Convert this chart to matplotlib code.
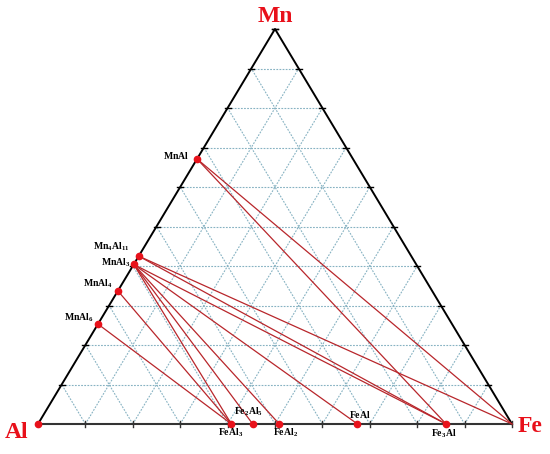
import matplotlib
matplotlib.use("Agg")
import matplotlib.pyplot as plt
import numpy as np

plt.rcParams['mathtext.fontset'] = 'custom'
plt.rcParams['mathtext.rm'] = 'Liberation Serif'
plt.rcParams['mathtext.bf'] = 'Liberation Serif:bold'
plt.rcParams['font.family'] = ['Liberation Serif', 'DejaVu Serif']

# ---- data (wt.%) ----
mn_side_names = ["MnAl", "Mn4Al11", "MnAl3", "MnAl4", "MnAl6"]
mn_side_labels = [r"$\mathbf{MnAl}$", r"$\mathbf{Mn_4Al_{11}}$", r"$\mathbf{MnAl_3}$",
                  r"$\mathbf{MnAl_4}$", r"$\mathbf{MnAl_6}$"]
mn_side_wt = [67.1, 42.5, 40.4, 33.7, 25.3]          # wt.% Mn on Al-Mn edge

fe_side_names = ["FeAl3", "Fe2Al5", "FeAl2", "FeAl", "Fe3Al"]
fe_side_labels = [r"$\mathbf{FeAl_3}$", r"$\mathbf{Fe_2Al_5}$", r"$\mathbf{FeAl_2}$",
                  r"$\mathbf{FeAl}$", r"$\mathbf{Fe_3Al}$"]
fe_side_wt = [40.8, 45.3, 50.9, 67.4, 86.1]          # wt.% Fe on Al-Fe edge

tie_lines = [("MnAl", "Fe3Al"), ("MnAl", "Fe"),
             ("Mn4Al11", "Fe"), ("Mn4Al11", "Fe3Al"),
             ("MnAl3", "Fe3Al"), ("MnAl3", "FeAl"), ("MnAl3", "FeAl2"),
             ("MnAl3", "Fe2Al5"), ("MnAl3", "FeAl3"),
             ("MnAl4", "FeAl3"), ("MnAl6", "FeAl3")]

# ---- helpers ----
def xy(al, fe, mn):
    s = al + fe + mn
    fe, mn = fe / s, mn / s
    return fe + 0.5 * mn, mn

comp = {"Al": (100, 0, 0), "Fe": (0, 100, 0), "Mn": (0, 0, 100)}
for n, w in zip(mn_side_names, mn_side_wt):
    comp[n] = (100 - w, 0, w)
for n, w in zip(fe_side_names, fe_side_wt):
    comp[n] = (100 - w, w, 0)

W, H = 550, 454
fig = plt.figure(figsize=(W / 100, H / 100), dpi=100)
ax = fig.add_axes([38 / W, 30 / H, 474 / W, 395 / H])
ax.set_xlim(0, 1)
ax.set_ylim(0, 1)
ax.axis('off')

px_x = 1 / 474
px_y = 1 / 395

grid_color = '#86b2c2'
gls = (0, (1.6, 1.2))
for i in range(1, 10):
    f = i / 10
    for a, b in ((xy(1 - f, 0, f), xy(0, 1 - f, f)),
                 (xy(1 - f, f, 0), xy(0, f, 1 - f)),
                 (xy(f, 1 - f, 0), xy(f, 0, 1 - f))):
        ax.plot([a[0], b[0]], [a[1], b[1]], ls=gls, color=grid_color, lw=0.8, zorder=1)

# triangle edges
A, F, M = xy(*comp["Al"]), xy(*comp["Fe"]), xy(*comp["Mn"])
ax.plot([A[0], F[0]], [A[1], F[1]], color='#333333', lw=1.5, zorder=3, clip_on=False)
ax.plot([F[0], M[0], A[0]], [F[1], M[1], A[1]], color='black', lw=1.4, zorder=3, clip_on=False)

# ticks
for i in range(1, 11):
    f = i / 10
    x, y = xy(1 - f, f, 0)
    ax.plot([x, x], [y - 3 * px_y, y + 3 * px_y], color='#333333', lw=1.0, zorder=3, clip_on=False)
for i in range(1, 11):
    f = i / 10
    for p in (xy(1 - f, 0, f), xy(0, 1 - f, f)):
        ax.plot([p[0] - 3 * px_x, p[0] + 3 * px_x], [p[1], p[1]], color='black', lw=1.0, zorder=3, clip_on=False)

# tie lines
for a, b in tie_lines:
    pa, pb = xy(*comp[a]), xy(*comp[b])
    ax.plot([pa[0], pb[0]], [pa[1], pb[1]], color='#b8262b', lw=0.9, zorder=4, clip_on=False)

# points
pts = ["Al"] + mn_side_names + fe_side_names
ax.plot([xy(*comp[n])[0] for n in pts], [xy(*comp[n])[1] for n in pts], 'o',
        color='#e8121b', ms=4.5, zorder=5, clip_on=False)

# compound labels
lab_fs = 7
mn_off = {"MnAl": (-8, 3), "Mn4Al11": (-9, 9), "MnAl3": (-3, 2), "MnAl4": (-5, 7), "MnAl6": (-4, 6)}
for n, lab in zip(mn_side_names, mn_side_labels):
    x, y = xy(*comp[n])
    dx, dy = mn_off[n]
    ax.text(x + dx * px_x, y + dy * px_y, lab, ha='right', va='center', fontsize=lab_fs, zorder=6)
fe_off = {"FeAl3": (-1, -9), "Fe2Al5": (-4, 12), "FeAl2": (6, -9), "FeAl": (2, 10), "Fe3Al": (-2, -10)}
for n, lab in zip(fe_side_names, fe_side_labels):
    x, y = xy(*comp[n])
    dx, dy = fe_off[n]
    ax.text(x + dx * px_x, y + dy * px_y, lab, ha='center', va='center', fontsize=lab_fs, zorder=6)

# vertex labels
vfs = 17
vcol = '#e8101a'
ax.text(0.5, 1 + 12 * px_y, "Mn", ha='center', va='center', fontsize=vfs, fontweight='bold', color=vcol)
ax.text(-21 * px_x, -9 * px_y, "Al", ha='center', va='center', fontsize=vfs, fontweight='bold', color=vcol)
ax.text(1 + 18 * px_x, -3 * px_y, "Fe", ha='center', va='center', fontsize=vfs, fontweight='bold', color=vcol)

fig.savefig("out.png", dpi=100)
